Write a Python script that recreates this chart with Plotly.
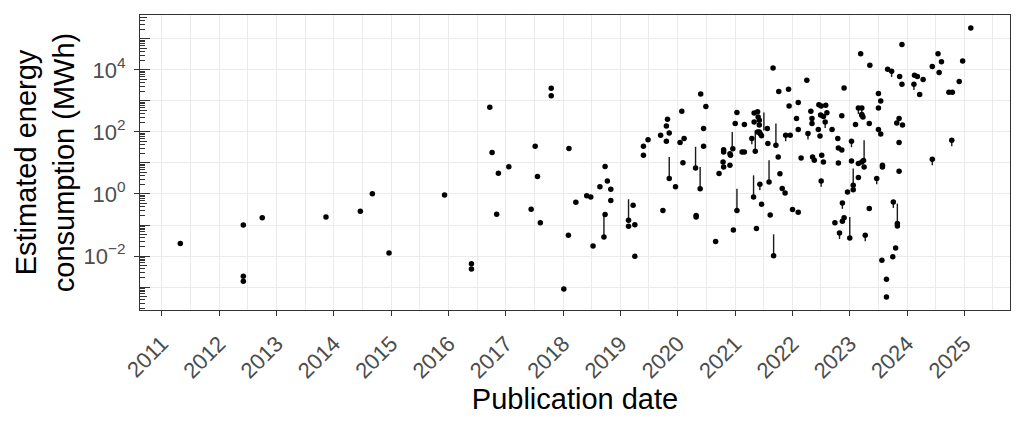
"""Energy use of published models over time (log scale), ggplot theme_bw look."""
import numpy as np
import pandas as pd
import plotly.graph_objects as go

# ---- data (x: decimal year, y: log10 of MWh) ----
pub_year = [
    2011.32, 2012.42, 2012.42, 2012.42, 2012.75, 2013.86, 2014.46, 2014.67, 2014.96, 2015.93,
    2016.40, 2016.40, 2016.72, 2016.76, 2016.87, 2016.84, 2017.05, 2017.51, 2017.55, 2017.44,
    2017.60, 2017.79, 2017.79, 2018.10, 2018.22, 2018.09, 2018.01,
    2018.73, 2018.77, 2018.64, 2018.83, 2018.41, 2018.48, 2018.83, 2018.73, 2018.71, 2018.52,
    2019.14, 2019.14, 2019.22, 2019.25, 2019.25, 2019.40, 2019.40, 2019.48, 2019.70, 2019.80,
    2019.80, 2019.82, 2019.85, 2019.74, 2019.85, 2019.96, 2020.04, 2020.11, 2020.07, 2020.09,
    2020.40, 2020.49, 2020.45, 2020.45, 2020.31, 2020.39, 2020.32, 2020.32, 2020.66, 2020.72,
    2023.19, 2021.66, 2022.25, 2022.90, 2021.76, 2021.93, 2022.10, 2021.94, 2021.03, 2021.00,
    2021.16, 2021.33, 2021.39, 2021.40, 2021.33, 2021.42, 2021.42, 2021.44, 2021.46, 2021.39,
    2021.56, 2021.35, 2021.29, 2020.96, 2020.80, 2020.80, 2020.92, 2020.91, 2020.79, 2021.12,
    2021.16, 2021.57, 2021.71, 2021.88, 2021.96, 2022.07, 2022.10, 2022.27, 2022.34, 2022.34,
    2022.32, 2022.46, 2022.50, 2022.58, 2022.49, 2022.54, 2022.60, 2022.57, 2022.45, 2022.48,
    2022.69, 2022.86, 2022.79, 2022.80, 2022.86, 2023.03, 2023.15, 2023.21, 2023.10, 2023.21,
    2023.03, 2023.15, 2023.21, 2022.15, 2022.35, 2022.38, 2022.51, 2022.54, 2022.80, 2021.75,
    2020.80, 2020.91, 2021.03, 2020.97, 2021.32, 2021.43, 2021.59, 2021.46, 2021.61, 2021.37,
    2021.67, 2021.78, 2021.82, 2021.87, 2022.00, 2022.10, 2022.50, 2023.06, 2023.06, 2023.15,
    2022.96, 2022.87, 2022.74, 2022.87, 2022.90, 2022.82, 2023.00, 2021.42,
    2025.11, 2023.91, 2024.54, 2024.60, 2024.97, 2024.44, 2024.56, 2024.91, 2024.73, 2024.79,
    2024.28, 2024.13, 2024.18, 2024.12, 2024.22, 2023.87, 2023.91, 2023.66, 2023.73, 2023.35,
    2023.50, 2023.54, 2023.50, 2023.21, 2023.23, 2023.34, 2023.86, 2023.82, 2023.92, 2023.50,
    2023.54, 2023.86, 2024.78, 2024.44, 2023.24, 2023.57, 2023.25, 2023.57, 2023.86, 2023.47,
    2023.76, 2023.83, 2023.83, 2023.34, 2023.27, 2023.80, 2023.75, 2023.56, 2023.64, 2023.64,
]
energy_log10 = [
    -1.60, -1.00, -2.65, -2.81, -0.77, -0.74, -0.56, 0.01, -1.90, -0.03,
    -2.25, -2.42, 2.80, 1.34, 0.67, -0.65, 0.88, 1.54, 0.56, -0.49,
    -0.93, 3.41, 3.17, 1.47, -0.27, -1.33, -3.06,
    0.89, 0.42, 0.23, 0.15, -0.06, -0.10, -0.21, -0.66, -1.39, -1.68,
    -0.85, -1.04, -0.36, -0.99, -2.01, 1.25, 1.54, 1.75, 1.89, 1.70,
    2.19, 2.41, 1.97, -0.53, 0.50, 0.23, 1.66, 1.79, 2.67, 1.01,
    3.22, 2.82, 2.11, 1.54, 0.84, 0.17, -0.69, -0.74, -1.53, 0.66,
    4.52, 4.06, 3.67, 3.42, 3.30, 3.38, 2.95, 2.84, 2.63, 2.27,
    2.24, 2.61, 2.65, 2.48, 2.32, 2.38, 2.00, 1.93, 1.88, 2.00,
    2.11, 1.38, 1.79, 1.46, 1.43, 1.35, 1.25, 1.30, 1.03, 1.35,
    1.35, 1.63, 1.57, 1.89, 1.89, 2.43, 2.08, 1.95, 2.43, 2.27,
    2.67, 2.88, 2.84, 2.86, 2.55, 2.50, 2.62, 2.32, 2.08, 1.87,
    2.08, 2.52, 1.79, 1.48, 1.42, 1.70, 2.77, 2.77, 2.24, 2.54,
    1.06, 0.98, 1.03, 1.16, 1.19, 1.09, 1.25, 1.03, 1.00, 1.19,
    0.87, 0.93, -0.53, -1.16, -0.10, 0.31, 0.39, -0.33, -0.68, -1.11,
    -1.99, 0.65, 0.18, 0.03, -0.50, -0.59, 0.42, 0.28, 0.14, 0.53,
    0.06, -0.29, -0.93, -0.88, -0.77, -1.26, -1.42, 2.22,
    5.35, 4.82, 4.52, 4.26, 4.29, 4.11, 3.92, 3.63, 3.28, 3.28,
    3.69, 3.83, 3.79, 3.54, 3.21, 3.79, 3.54, 4.02, 3.96, 4.15,
    3.24, 3.00, 2.77, 2.56, 2.48, 2.27, 2.43, 2.29, 2.22, 2.08,
    1.93, 1.66, 1.73, 1.12, 1.08, 0.93, 0.87, 0.87, 0.73, 0.50,
    -0.26, -0.95, -1.03, -0.47, -1.33, -1.74, -2.02, -2.14, -2.75, -3.32,
]

# uncertainty ranges (vertical segments): year, low, high (log10 MWh)
range_year = [
    2018.71, 2019.14, 2019.85, 2020.31, 2020.39, 2020.95, 2021.03, 2021.32, 2021.35, 2021.50,
    2021.59, 2021.67, 2021.71, 2023.00, 2023.06, 2023.25, 2023.83,
    2021.29, 2021.43, 2021.88, 2022.27, 2022.50, 2022.57, 2022.87, 2022.82, 2023.03, 2023.15,
    2023.21, 2023.27, 2023.47, 2023.73, 2023.76, 2024.12, 2024.44, 2024.78,
]
range_lo = [
    -1.39, -0.85, 0.50, 0.84, 0.17, 1.46, -0.53, -0.10, 1.38, 2.05,
    0.39, -1.99, 1.57, -1.42, 0.17, 1.03, -1.03,
    1.60, 0.12, 1.70, 1.76, 0.23, 2.13, -0.48, -1.45, 1.51, 2.58,
    2.58, -1.52, 0.31, 3.77, -0.45, 3.35, 0.93, 1.54,
]
range_hi = [
    -0.66, -0.17, 1.19, 1.52, 0.87, 2.00, 0.17, 0.60, 2.05, 2.63,
    1.09, -1.30, 2.27, -0.74, 0.82, 1.73, -0.31,
    1.79, 0.31, 1.89, 1.95, 0.42, 2.32, -0.29, -1.26, 1.70, 2.77,
    2.77, -1.33, 0.50, 3.96, -0.26, 3.54, 1.12, 1.73,
]

year_ticks = list(range(2011, 2026))
y_major = [1e-2, 1e0, 1e2, 1e4]
y_major_text = ['10<sup>\u22122</sup>', '10<sup>0</sup>', '10<sup>2</sup>', '10<sup>4</sup>']
y_minor = [1e-3, 1e-1, 1e1, 1e3, 1e5]

FONT = 'Liberation Sans, Arial, Helvetica, sans-serif'
GRID = '#EBEBEB'
INK = '#333333'
TICK_SIZE = 22
TITLE_SIZE = 29


def to_date(y):
    start = pd.Timestamp(int(y), 1, 1)
    return start + pd.Timedelta(days=(y - int(y)) * 365.25)


dates = [to_date(y) for y in pub_year]
energy = [10 ** v for v in energy_log10]

seg_x, seg_y = [], []
for yr, lo, hi in zip(range_year, range_lo, range_hi):
    d = to_date(yr)
    seg_x += [d, d, None]
    seg_y += [10 ** lo, 10 ** hi, None]

decades = [10.0 ** k for k in range(-4, 7)]
fives = [5 * d for d in decades]
shorts = [m * d for d in decades for m in (2, 3, 4, 6, 7, 8, 9)]

fig = go.Figure()
fig.add_trace(go.Scatter(
    x=seg_x, y=seg_y, mode='lines',
    line=dict(color='#1a1a1a', width=1.4),
    hoverinfo='skip', showlegend=False,
))
fig.add_trace(go.Scatter(
    x=dates, y=energy, mode='markers',
    marker=dict(color='black', size=5.5),
    hovertemplate='%{x|%Y-%m-%d}<br>%{y:.3g} MWh<extra></extra>',
    showlegend=False,
))
# invisible traces so the log-tick overlay axes get drawn
for ax in ('y2', 'y3'):
    fig.add_trace(go.Scatter(x=[dates[0]], y=[1], yaxis=ax, mode='markers',
                             marker=dict(opacity=0), hoverinfo='skip', showlegend=False))

yrange = [-3.74, 5.77]
# page body has an 8px margin, so the figure is sized to fit the window
fig.update_layout(
    width=1010, height=411,
    paper_bgcolor='white', plot_bgcolor='white',
    margin=dict(l=132, r=8, t=7, b=109),
    font=dict(family=FONT, color='black'),
    xaxis=dict(
        type='date',
        range=['2010-08-14', '2025-10-18'],
        tickmode='array',
        tickvals=[f'{y}-01-01' for y in year_ticks],
        ticktext=[str(y) for y in year_ticks],
        tickangle=-45,
        tickfont=dict(size=TICK_SIZE, color='#4D4D4D'),
        ticklabelstandoff=6,
        ticks='outside', ticklen=5, tickwidth=1.1, tickcolor=INK,
        showgrid=True, gridcolor=GRID, gridwidth=1.1,
        minor=dict(dtick='M6', tick0='2011-01-01', showgrid=True, gridcolor=GRID, gridwidth=0.55),
        showline=True, mirror=True, linecolor=INK, linewidth=1.1,
        zeroline=False,
        title=dict(text='Publication date', font=dict(size=TITLE_SIZE, color='black'), standoff=2),
    ),
    yaxis=dict(
        type='log', range=yrange,
        tickmode='array', tickvals=y_major, ticktext=y_major_text,
        tickfont=dict(size=TICK_SIZE, color='#4D4D4D'),
        ticklabelstandoff=4,
        ticks='outside', ticklen=5, tickwidth=1.1, tickcolor=INK,
        showgrid=True, gridcolor=GRID, gridwidth=1.1,
        minor=dict(tickmode='array', tickvals=y_minor, ticks='', showgrid=True,
                   gridcolor=GRID, gridwidth=0.55),
        showline=True, mirror=True, linecolor=INK, linewidth=1.1,
        zeroline=False,
        title=dict(text='Estimated energy<br>consumption (MWh)',
                   font=dict(size=TITLE_SIZE, color='black'), standoff=0),
    ),
    yaxis2=dict(
        type='log', range=yrange, overlaying='y', side='left', anchor='x',
        tickmode='array', tickvals=decades, showticklabels=False,
        ticks='inside', ticklen=10, tickwidth=1, tickcolor=INK,
        minor=dict(tickmode='array', tickvals=fives, ticks='inside', ticklen=7,
                   tickwidth=1, tickcolor=INK, showgrid=False),
        showgrid=False, zeroline=False, showline=False,
    ),
    yaxis3=dict(
        type='log', range=yrange, overlaying='y', side='left', anchor='x',
        tickmode='array', tickvals=shorts, showticklabels=False,
        ticks='inside', ticklen=4.5, tickwidth=1, tickcolor=INK,
        showgrid=False, zeroline=False, showline=False,
    ),
)

fig.write_html('out.html')
